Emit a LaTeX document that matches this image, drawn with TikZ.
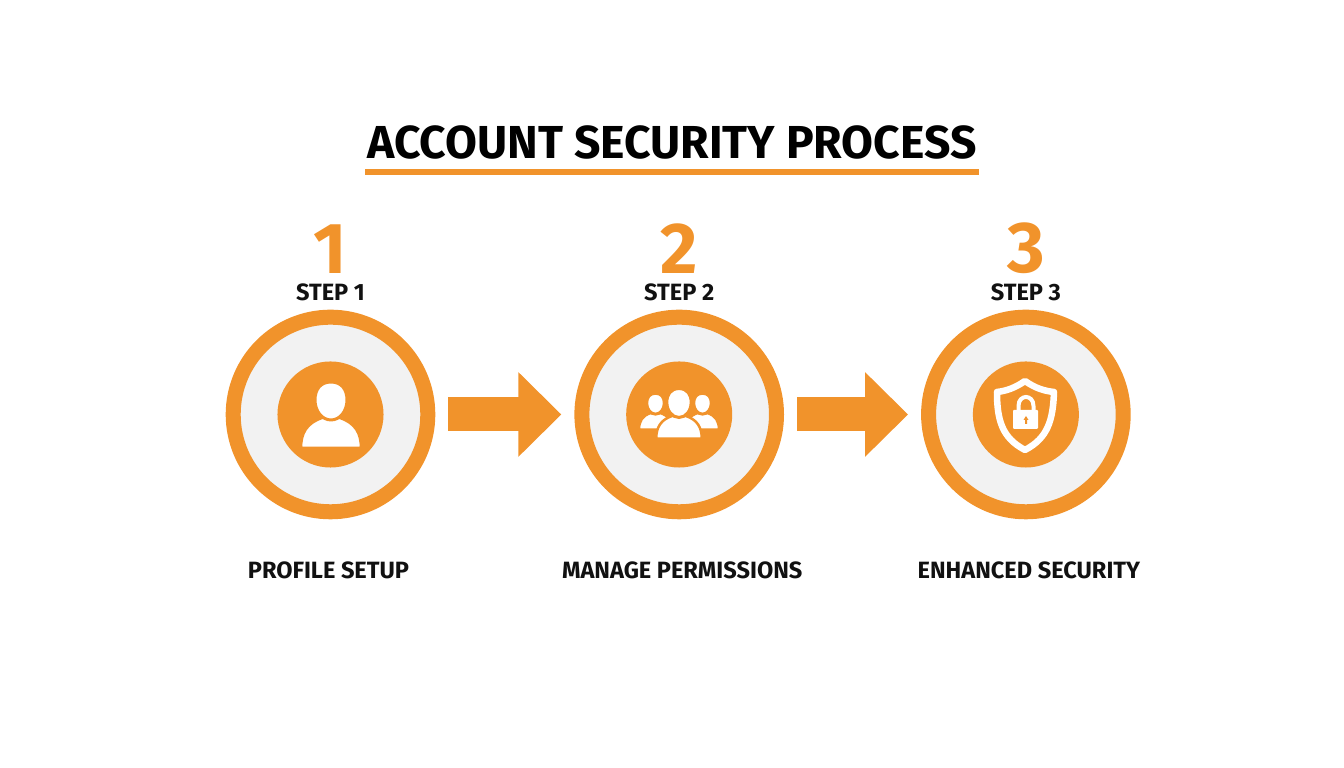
\documentclass[tikz,border=0pt]{standalone}
\usepackage{fontspec}
\setmainfont{Fira Sans}
\usepackage{tikz}
\usetikzlibrary{positioning,arrows.meta}
\definecolor{accent}{HTML}{F1932B}
\definecolor{ringfill}{HTML}{F2F2F2}
\definecolor{inktext}{HTML}{111111}
\tikzstyle{flowarrow} = [accent,line width=.34cm,shorten <=.13cm,shorten >=.13cm,-{Triangle[length=.43cm,width=.82cm]}]
\tikzset{person/.pic={
		\draw[accent,fill=white,line width=.025cm] (-30,1) .. controls (-30,-14) and (-24,-24) .. (-9,-29) -- (9,-29) .. controls (24,-24) and (30,-14) .. (30,1) -- cycle;
		\draw[accent,fill=white,line width=.03cm] (0,-65) .. controls (11,-65) and (16,-57) .. (16,-47) .. controls (16,-36) and (9,-27) .. (0,-27) .. controls (-9,-27) and (-16,-36) .. (-16,-47) .. controls (-16,-57) and (-11,-65) .. (0,-65) -- cycle;
}}

\begin{document}
\begin{tikzpicture}[x=.01cm,y=-.01cm,
	ring/.style={circle, draw=accent, fill=ringfill, line width=.15cm, inner sep=0, minimum size=1.945cm},
	disc/.style={circle, fill=accent, inner sep=0, minimum size=1.06cm},
	number/.style={inner sep=0, text=accent, font=\bfseries\fontsize{20.5}{20.5}\selectfont},
	steplabel/.style={inner sep=0, text=inktext, font=\bfseries\fontsize{6.7}{8}\selectfont},
	caption/.style={inner sep=0, text=inktext, font=\bfseries\fontsize{6.7}{8}\selectfont}]
		
		\useasboundingbox (0,0) rectangle (1344,768);
		
		% TITLE
		
		\node [inner sep=0, text=black, font=\bfseries\fontsize{13.15}{16}\selectfont] (title) at (672,142) {ACCOUNT SECURITY PROCESS};
		\fill[accent] (365,169) rectangle (979,175);
		
		% STEPS
		
		\node [ring] (ring1) at (330.5,414.5) {};
		\node [ring, right=1.39cm of ring1] (ring2) {};
		\node [ring, right=1.37cm of ring2] (ring3) {};
		
		\node [disc] (disc1) at (ring1) {};
		\node [disc] (disc2) at (ring2) {};
		\node [disc] (disc3) at (ring3) {};
		
		\node [steplabel, above=.08cm of ring1] (step1) {STEP 1};
		\node [steplabel, above=.08cm of ring2] (step2) {STEP 2};
		\node [steplabel, above=.08cm of ring3] (step3) {STEP 3};
		
		\node [number, above=.09cm of step1] (num1) {1};
		\node [number, above=.09cm of step2] (num2) {2};
		\node [number, above=.09cm of step3] (num3) {3};
		
		\node [caption, below=.42cm of ring1, xshift=-.02cm] (label1) {PROFILE SETUP};
		\node [caption, below=.42cm of ring2, xshift=.03cm] (label2) {MANAGE PERMISSIONS};
		\node [caption, below=.42cm of ring3, xshift=.03cm] (label3) {ENHANCED SECURITY};
		
		% ARROWS
		
		\draw[flowarrow] (ring1) -- (ring2);
		\draw[flowarrow] (ring2) -- (ring3);
		
		% ICONS
		
		\pic at (331,447) {person};
		
		\pic[scale=.55] at (655.5,429) {person};
		\pic[scale=.55] at (702.5,429) {person};
		\pic[scale=.76] at (679,438) {person};
		
		\draw[white,line width=.065cm,line join=round] (1025,381) .. controls (1015,388) and (1006,391) .. (997,392) .. controls (997,420) and (1002,438) .. (1025,450) .. controls (1048,438) and (1053,420) .. (1054,392) .. controls (1044,391) and (1035,388) .. (1025,381) -- cycle;
		\draw[white,line width=.04cm] (1018.5,412) -- (1018.5,406) .. controls (1018.5,394) and (1033.5,394) .. (1033.5,406) -- (1033.5,412);
		\fill[white,rounded corners=.01cm] (1013,410) rectangle (1038,429);
		\fill[accent] (1026,416) -- (1028.5,420) -- (1027,420) -- (1027,424) -- (1025,424) -- (1025,420) -- (1023.5,420) -- cycle;
		
\end{tikzpicture}
\end{document}
